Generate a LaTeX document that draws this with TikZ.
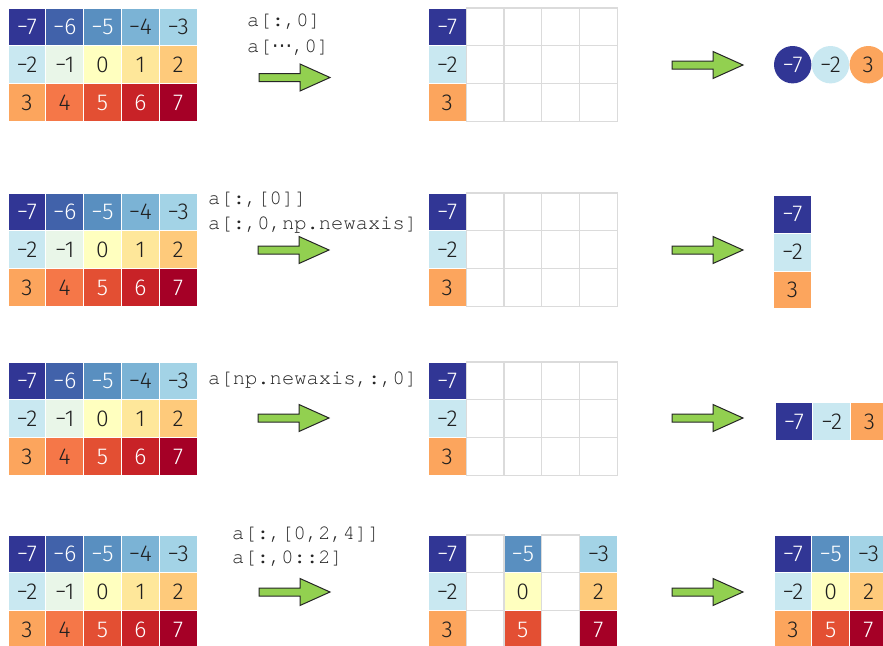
\documentclass[tikz,border=0pt]{standalone}
\usepackage{fontspec}
\newfontfamily\numfont{Fira Sans Light}
\newfontfamily\codefont{TeX Gyre Cursor}
\newfontfamily\dejasans{DejaVu Sans}
\definecolor{cm7}{HTML}{313695}
\definecolor{cm6}{HTML}{4162AA}
\definecolor{cm5}{HTML}{598FC0}
\definecolor{cm4}{HTML}{7BB3D5}
\definecolor{cm3}{HTML}{A3D3E6}
\definecolor{cm2}{HTML}{C9E8F1}
\definecolor{cm1}{HTML}{E9F6E8}
\definecolor{c0}{HTML}{FFFFBF}
\definecolor{c1}{HTML}{FEE79A}
\definecolor{c2}{HTML}{FECA7B}
\definecolor{c3}{HTML}{FCA55D}
\definecolor{c4}{HTML}{F57748}
\definecolor{c5}{HTML}{E34F33}
\definecolor{c6}{HTML}{C82227}
\definecolor{c7}{HTML}{A50026}
\definecolor{arrowgreen}{HTML}{92D050}
\newcommand\valcell[5][]{%
  \pgfmathtruncatemacro\absv{abs(#5)}%
  \ifnum#5<0 \edef\cname{cm\absv}\else\edef\cname{c\absv}\fi
  \ifnum\absv>4 \def\tcol{white}\else\def\tcol{black!88}\fi
  \node[cellbox, fill=\cname, text=\tcol, #1] (#2) at (#3,#4) {\ifnum#5<0 −\fi\absv};%
}
\newcommand\greenarrow[2]{%
  \draw[arrowstyle] (#1,#2-4) -- (#1+41,#2-4) -- (#1+41,#2-13.5) -- (#1+71,#2)
    -- (#1+41,#2+13.5) -- (#1+41,#2+4) -- (#1,#2+4) -- cycle;%
}
\begin{document}
\begin{tikzpicture}[x=1pt,y=-1pt,
  cellbox/.style={rectangle, minimum width=37.8pt, minimum height=37.8pt, inner sep=0pt,
    draw=white, line width=1pt, font=\numfont\fontsize{23}{26}\selectfont},
  emptybox/.style={rectangle, minimum width=37.8pt, minimum height=37.8pt, inner sep=0pt,
    draw=black!14, line width=1.2pt},
  codetext/.style={anchor=west, inner sep=0pt, text=black!85,
    font=\codefont\fontsize{20.5}{24}\selectfont},
  arrowstyle/.style={fill=arrowgreen, draw=black!85, line width=1pt, line join=miter}]
\useasboundingbox[fill=white] (0,0) rectangle (883,645);

% left grids
\foreach \g/\y in {1/8,2/193,3/362,4/535} {
  \foreach \r in {0,1,2} {
    \foreach \c in {0,...,4} {
      \pgfmathtruncatemacro\v{5*\r+\c-7}
      \valcell{L\g-\r\c}{8+18.9+37.8*\c}{\y+18.9+37.8*\r}{\v}
    }
  }
}

% middle grids, rows 1-3
\foreach \g/\y in {1/8,2/193,3/362} {
  \foreach \r in {0,1,2} {
    \pgfmathtruncatemacro\v{5*\r-7}
    \valcell{M\g-\r0}{428.3+18.9}{\y+18.9+37.8*\r}{\v}
    \foreach \c in {1,...,4} {
      \node[emptybox] (M\g-\r\c) at (428.3+18.9+37.8*\c, \y+18.9+37.8*\r) {};
    }
  }
}
% middle grid, row 4
\foreach \r in {0,1,2} {
  \foreach \c in {0,2,4} {
    \pgfmathtruncatemacro\v{5*\r+\c-7}
    \valcell{M4-\r\c}{428.3+18.9+37.8*\c}{535+18.9+37.8*\r}{\v}
  }
  \foreach \c in {1,3} {
    \node[emptybox] (M4-\r\c) at (428.3+18.9+37.8*\c, 535+18.9+37.8*\r) {};
  }
}

% right results
\foreach \i/\v in {0/-7,1/-2,2/3} {
  \valcell[circle, draw=none, minimum size=37.4pt]{R1-\i}{792.7+37.8*\i}{64.7}{\v}
  \valcell{R2-\i}{773.5+18.9}{195.5+18.9+37.8*\i}{\v}
  \valcell{R3-\i}{775+18.9+37.8*\i}{403+18.5}{\v}
}
\foreach \r in {0,1,2} {
  \foreach \c in {0,1,2} {
    \pgfmathtruncatemacro\v{5*\r+2*\c-7}
    \valcell{R4-\r\c}{774+18.9+37.8*\c}{535+18.9+37.8*\r}{\v}
  }
}

% code texts
\node[codetext] (t1a) at (247,22) {a[:,0]};
\node[codetext] (t1b) at (247,48) {a[{\dejasans ⋯},0]};
\node[codetext] (t2a) at (208,200) {a[:,[0]]};
\node[codetext] (t2b) at (208,225) {a[:,0,np.newaxis]};
\node[codetext] (t3a) at (208,380) {a[np.newaxis,:,0]};
\node[codetext] (t4a) at (232,535) {a[:,[0,2,4]]};
\node[codetext] (t4b) at (232,559) {a[:,0::2]};

% arrows
\greenarrow{259}{77.5}
\greenarrow{258}{250}
\greenarrow{258}{418}
\greenarrow{259}{592}
\greenarrow{672}{65}
\greenarrow{672}{250}
\greenarrow{672}{418}
\greenarrow{672}{592}
\end{tikzpicture}
\end{document}
